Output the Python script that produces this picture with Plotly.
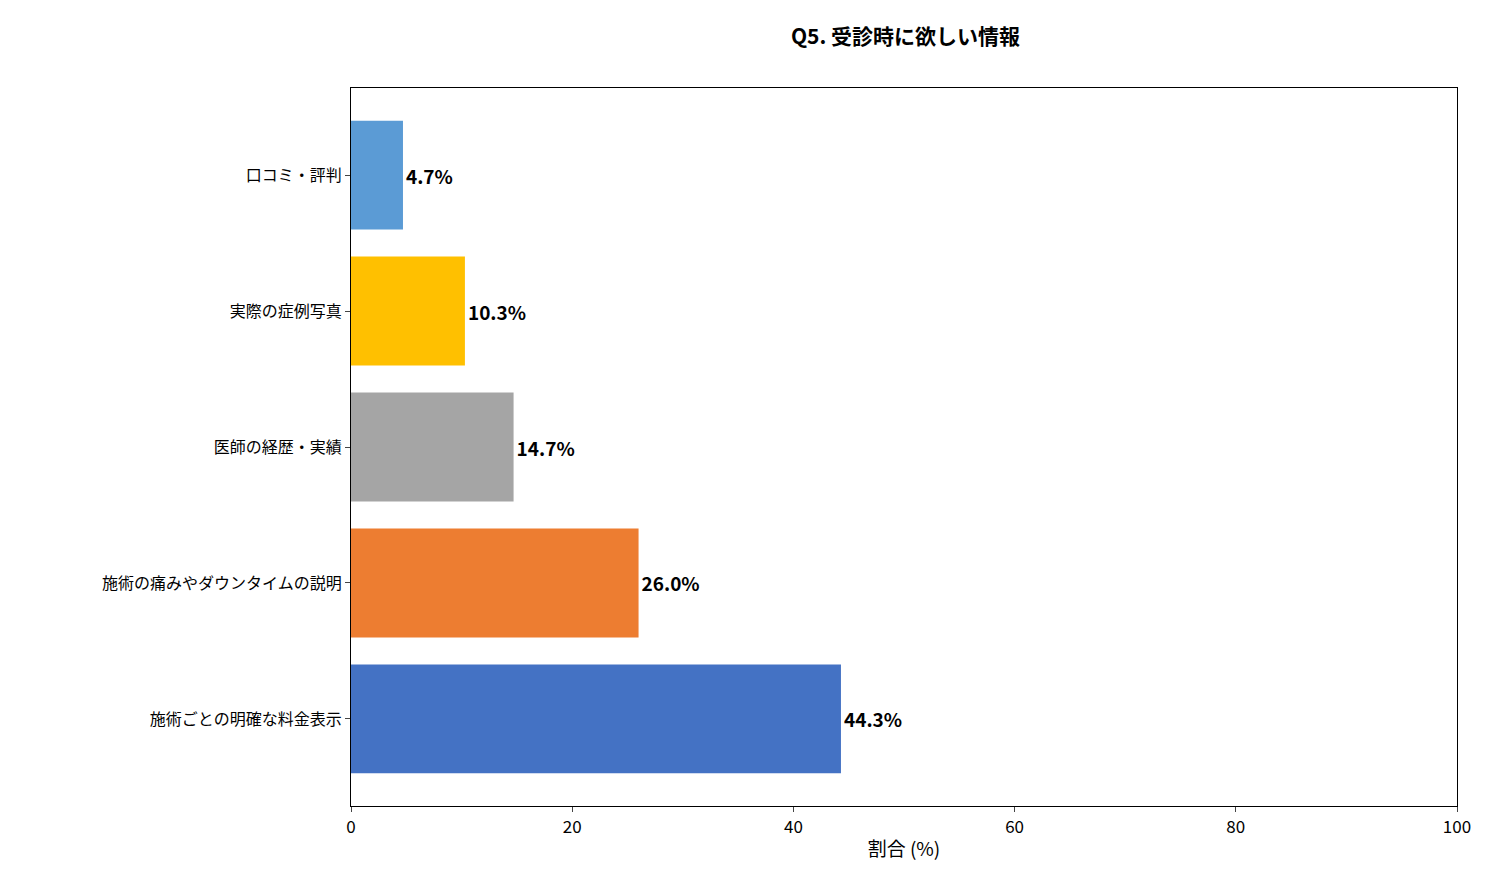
import plotly.graph_objects as go

categories = ["施術ごとの明確な料金表示", "施術の痛みやダウンタイムの説明", "医師の経歴・実績", "実際の症例写真", "口コミ・評判"]
values = [44.3, 26.0, 14.7, 10.3, 4.7]
colors = ["#4472C4", "#ED7D31", "#A5A5A5", "#FFC000", "#5B9BD5"]
labels = [f"{v:.1f}%" for v in values]

FONT = "Noto Sans CJK JP"

fig = go.Figure(go.Bar(
    x=values, y=list(range(len(categories))), orientation="h",
    marker=dict(color=colors, line=dict(width=0)), width=0.8,
    text=[f"<b>{t}</b>" for t in labels], textposition="outside",
    textfont=dict(size=19, color="black", family=FONT),
    cliponaxis=False,
))

fig.update_layout(
    width=1486, height=881,
    margin=dict(l=343, r=37, t=80, b=83),
    paper_bgcolor="white", plot_bgcolor="white",
    font=dict(family=FONT, color="black", size=15),
    title=dict(text="<b>Q5. 受診時に欲しい情報</b>", x=0.604, xanchor="center",
               y=0.968, yanchor="middle", font=dict(size=21)),
    showlegend=False,
)
fig.update_xaxes(range=[0, 100], tickvals=[0, 20, 40, 60, 80, 100],
                 showgrid=False, zeroline=False, showline=True, linecolor="black",
                 linewidth=1.2, mirror=True, ticks="outside", ticklen=5,
                 tickfont=dict(size=17), title=dict(text="割合 (%)", font=dict(size=19), standoff=6))
fig.update_yaxes(range=[-0.64, 4.64], tickvals=list(range(len(categories))), ticktext=categories,
                 showgrid=False, zeroline=False, showline=True, linecolor="black",
                 linewidth=1.2, mirror=True, ticks="outside", ticklen=5,
                 tickfont=dict(size=16))

fig.write_html("out.html")
